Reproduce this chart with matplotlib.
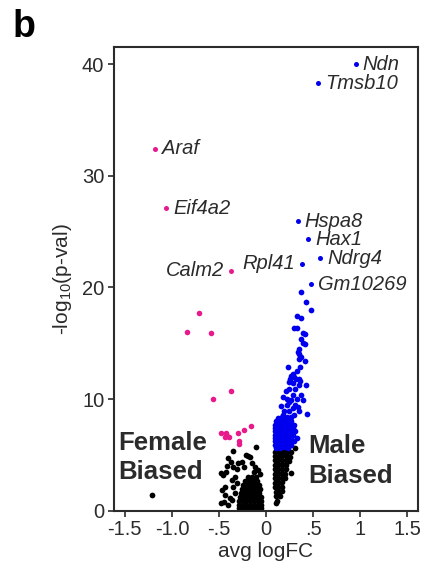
import numpy as np
import matplotlib
matplotlib.use('Agg')
import matplotlib.pyplot as plt

plt.rcParams['font.family'] = ['Liberation Sans', 'DejaVu Sans']
plt.rcParams['mathtext.default'] = 'regular'

# labelled genes (avg logFC, -log10 p)
gene_names = ['Ndn', 'Tmsb10', 'Araf', 'Eif4a2', 'Hspa8', 'Hax1', 'Ndrg4', 'Rpl41', 'Calm2', 'Gm10269']
gene_x = [0.95, 0.556, -1.18, -1.063, 0.334, 0.45, 0.577, 0.38, -0.373, 0.478]
gene_y = [40.0, 38.3, 32.4, 27.1, 25.9, 24.3, 22.6, 22.1, 21.5, 20.3]

# female biased (significant)
fem_x = [-0.716, -0.836, -0.590, -0.370, -0.562, -0.159, -0.230, -0.300, -0.478, -0.428,
         -0.436, -0.390, -0.412, -0.287, -0.287]
fem_y = [17.7, 16.0, 15.9, 10.7, 10.0, 7.6, 7.2, 6.98, 6.93, 6.93,
         6.63, 6.57, 6.7, 6.27, 5.94]

# male biased (significant)
male_x = [0.370, 0.426, 0.482, 0.327, 0.373, 0.296, 0.327, 0.391, 0.415, 0.373,
          0.387, 0.415, 0.345, 0.334, 0.352, 0.373, 0.345, 0.415, 0.232, 0.359,
          0.327, 0.282, 0.268, 0.299, 0.317, 0.345, 0.363, 0.257, 0.239, 0.282,
          0.352, 0.429, 0.246, 0.303, 0.373, 0.211, 0.282, 0.176, 0.222, 0.268,
          0.327, 0.394, 0.246, 0.218, 0.306, 0.158, 0.341, 0.282, 0.352, 0.194,
          0.246, 0.440, 0.183, 0.218, 0.264, 0.299,
          0.13, 0.17, 0.21, 0.25,
          0.11, 0.15, 0.19, 0.23, 0.27,
          0.10, 0.14, 0.18, 0.22, 0.26, 0.30,
          0.10, 0.13, 0.17, 0.21, 0.25, 0.29,
          0.10, 0.14, 0.18, 0.22, 0.26, 0.31,
          0.10, 0.13, 0.17, 0.21, 0.25, 0.29,
          0.10, 0.14, 0.18, 0.22, 0.27, 0.33,
          0.10, 0.13, 0.17, 0.21, 0.25, 0.30,
          0.10, 0.14, 0.18, 0.22, 0.26,
          0.11, 0.15, 0.19, 0.23]
male_y = [19.6, 18.7, 18.0, 17.4, 17.3, 16.4, 16.4, 15.9, 15.8, 15.4,
          15.0, 14.9, 14.5, 14.2, 14.0, 13.8, 13.6, 13.4, 12.9, 12.9,
          12.5, 12.2, 12.1, 12.0, 11.8, 11.8, 11.6, 11.8, 11.5, 11.4,
          11.3, 11.3, 10.9, 10.9, 10.4, 10.7, 10.4, 10.2, 10.0, 9.9,
          10.0, 9.9, 9.7, 9.5, 9.5, 9.4, 9.3, 9.2, 8.9, 8.9,
          8.9, 8.7, 8.6, 8.4, 8.4, 8.6,
          8.3, 8.35, 8.3, 8.2,
          8.0, 8.05, 8.0, 7.95, 8.0,
          7.7, 7.7, 7.75, 7.7, 7.65, 7.7,
          7.4, 7.4, 7.45, 7.4, 7.35, 7.4,
          7.1, 7.1, 7.15, 7.1, 7.05, 7.1,
          6.8, 6.8, 6.85, 6.8, 6.75, 6.8,
          6.5, 6.5, 6.55, 6.5, 6.45, 6.5,
          6.2, 6.2, 6.25, 6.2, 6.15, 6.2,
          5.9, 5.9, 5.95, 5.9, 5.85,
          5.65, 5.65, 5.7, 5.65]

# not significant
ns_x = [0.10, 0.14, 0.18, 0.22, 0.26, 0.31,
        0.10, 0.14, 0.18, 0.22, 0.25,
        0.10, 0.13, 0.17, 0.21, 0.24,
        0.10, 0.13, 0.17, 0.21,
        0.10, 0.13, 0.17, 0.21, 0.27,
        0.10, 0.13, 0.17, 0.20,
        0.10, 0.13, 0.17, 0.20,
        0.10, 0.13, 0.17,
        0.10, 0.13, 0.17,
        0.11, 0.14, 0.17,
        0.11, 0.15, 0.12, 0.11,
        -0.29, -0.25, -0.21, -0.17, -0.13, -0.09, -0.05,
        -0.29, -0.25, -0.21, -0.17, -0.13, -0.09, -0.05,
        -0.29, -0.25, -0.21, -0.17, -0.13, -0.09, -0.05,
        -0.28, -0.24, -0.20, -0.16, -0.12, -0.08, -0.05,
        -0.27, -0.23, -0.19, -0.15, -0.11, -0.07,
        -0.26, -0.22, -0.18, -0.14, -0.10, -0.06,
        -0.24, -0.20, -0.16, -0.12, -0.08,
        -0.22, -0.18, -0.14, -0.10,
        -0.19, -0.15, -0.11,
        -0.109, -0.354, -0.216, -0.195, -0.170, -0.400, -0.372, -0.251, -0.294, -0.152,
        -0.414, -0.347, -0.230, -0.117, -0.312, -0.081, -0.478, -0.453, -0.429, -0.329,
        -0.365, -0.312, -0.347, -0.436, -0.464, -0.436, -0.382, -0.365, -0.478, -0.443,
        -0.400, -0.329, -0.060, -0.130,
        -1.215]
ns_y = [5.3, 5.3, 5.35, 5.3, 5.25, 5.6,
        4.9, 4.9, 4.95, 4.9, 4.85,
        4.5, 4.5, 4.55, 4.5, 4.45,
        4.1, 4.1, 4.15, 4.1,
        3.7, 3.7, 3.75, 3.7, 3.4,
        3.3, 3.3, 3.35, 3.3,
        2.9, 2.9, 2.95, 2.9,
        2.5, 2.5, 2.55,
        2.1, 2.1, 2.15,
        1.7, 1.7, 1.75,
        1.3, 1.3, 0.9, 0.65,
        0.2, 0.2, 0.2, 0.2, 0.2, 0.2, 0.2,
        0.55, 0.55, 0.55, 0.55, 0.55, 0.55, 0.55,
        0.9, 0.9, 0.9, 0.9, 0.9, 0.9, 0.9,
        1.25, 1.25, 1.25, 1.25, 1.25, 1.25, 1.25,
        1.6, 1.6, 1.6, 1.6, 1.6, 1.6,
        1.95, 1.95, 1.95, 1.95, 1.95, 1.95,
        2.3, 2.3, 2.3, 2.3, 2.3,
        2.65, 2.65, 2.65, 2.65,
        3.0, 3.0, 3.0,
        5.67, 5.34, 4.99, 4.90, 4.84, 4.69, 4.39, 4.39, 4.24, 4.24,
        4.00, 3.94, 3.94, 3.88, 3.70, 3.64, 3.40, 3.20, 3.49, 3.05,
        2.75, 2.45, 2.15, 2.15, 1.85, 1.40, 1.10, 0.96, 0.72, 0.81,
        0.51, 1.55, 3.30, 3.45,
        1.4]

xticks = [-1.5, -1.0, -0.5, 0, 0.5, 1.0, 1.5]
xtick_labels = ['-1.5', '-1.0', '-.5', '0', '.5', '1', '1.5']
yticks = [0, 10, 20, 30, 40]

PINK = '#e8198b'
BLUE = '#0000ee'
DARK = '#2b2b2b'
left_labels = {'Rpl41', 'Calm2'}

fig = plt.figure(figsize=(4.29, 5.71), dpi=100)
ax = fig.add_axes([0.2657, 0.1056, 0.7079, 0.8116])

ax.scatter(ns_x, ns_y, s=17, c='black', linewidths=0, zorder=2)
ax.scatter(male_x, male_y, s=17, c=BLUE, linewidths=0, zorder=2)
ax.scatter(fem_x, fem_y, s=16, c=PINK, linewidths=0, zorder=2)

for name, x, y in zip(gene_names, gene_x, gene_y):
    col = PINK if x < 0 else BLUE
    ax.scatter([x], [y], s=13, c=col, linewidths=0, zorder=3)
    if name in left_labels:
        ax.annotate(name, (x, y), xytext=(-5, 0), textcoords='offset points',
                    ha='right', va='center', fontsize=14.5, style='italic', color=DARK)
    else:
        ax.annotate(name, (x, y), xytext=(5, 0), textcoords='offset points',
                    ha='left', va='center', fontsize=14.5, style='italic', color=DARK)

ax.text(-1.573, 4.75, 'Female\nBiased', ha='left', va='center', fontsize=18.5,
        fontweight='bold', color=DARK, linespacing=1.25)
ax.text(0.446, 4.45, 'Male\nBiased', ha='left', va='center', fontsize=18.5,
        fontweight='bold', color=DARK, linespacing=1.3)

ax.set_xlim(-1.615, 1.61)
ax.set_ylim(0, 41.5)
ax.set_xticks(xticks)
ax.set_xticklabels(xtick_labels)
ax.set_yticks(yticks)
ax.tick_params(direction='out', length=4, width=1.2, colors=DARK, labelsize=14.5, pad=3)
for sp in ax.spines.values():
    sp.set_linewidth(1.5)
    sp.set_color(DARK)

ax.set_xlabel('avg logFC', fontsize=15, color=DARK, labelpad=2)
ax.set_ylabel('-log$_{10}$(p-val)', fontsize=15, color=DARK, labelpad=6)

fig.text(0.03, 0.952, 'b', fontsize=27, fontweight='bold', ha='left', va='center')

fig.savefig('out.png', dpi=100)
